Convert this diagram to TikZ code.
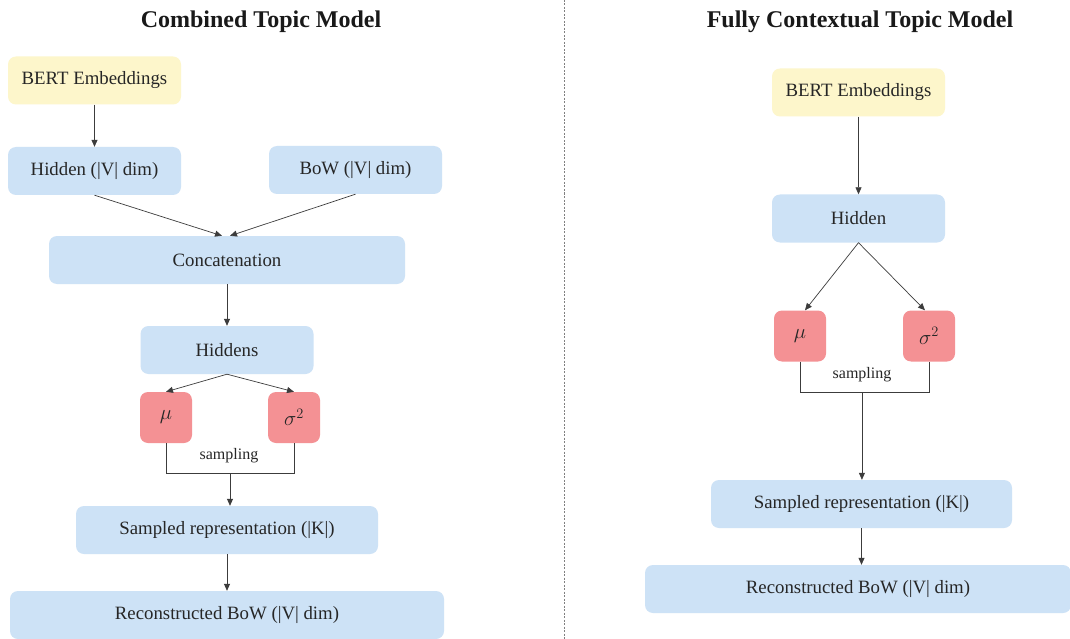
\documentclass[tikz,border=0pt]{standalone}
\usepackage{fontspec}
\setmainfont{Liberation Serif}
\usetikzlibrary{arrows.meta,calc}
\definecolor{bluebox}{RGB}{205,226,246}
\definecolor{yellowbox}{RGB}{253,246,203}
\definecolor{redbox}{RGB}{244,145,148}
\definecolor{linec}{RGB}{60,60,60}
\begin{document}
\begin{tikzpicture}[x=1pt,y=-1pt,
  box/.style={rounded corners=8pt, minimum height=48pt, inner sep=0pt, draw=none, font=\fontsize{18.8}{22}\selectfont, text=black!85},
  bluen/.style={box, fill=bluebox},
  yellown/.style={box, fill=yellowbox},
  redn/.style={box, fill=redbox, minimum width=52pt, minimum height=51pt, font=\fontsize{21}{24}\selectfont},
  conn/.style={draw=linec, line width=0.7pt, -{Triangle[length=7pt,width=6pt]}},
  plain/.style={draw=linec, line width=0.7pt},
  ttl/.style={font=\fontsize{24}{28}\selectfont\bfseries, text=black!90},
  smpl/.style={font=\fontsize{16}{19}\selectfont, text=black!85}
]
\useasboundingbox (0,0) rectangle (1070,639);
\fill[white] (0,0) rectangle (1070,639);
% divider
\draw[gray, line width=0.6pt, dash pattern=on 2pt off 1.5pt] (564,0) -- (564,639);

% ---------------- Left ----------------
\node[ttl] (tl) at (261,22) {Combined Topic Model};
\node[yellown, minimum width=173pt] (lbert) at (94.5,80.5) {BERT Embeddings};
\node[bluen, minimum width=173pt] (lhid) at (94.5,171) {Hidden (|V| dim)};
\node[bluen, minimum width=173pt] (lbow) at (355.5,170) {BoW (|V| dim)};
\node[bluen, minimum width=356pt] (lcat) at (227,260) {Concatenation};
\node[bluen, minimum width=173pt] (lhids) at (227,350) {Hiddens};
\node[redn] (lmu) at (166,417.5) {$\mu$};
\node[redn] (lsig) at (294,417.5) {$\sigma^2$};
\node[smpl] (lsamp) at (229,456) {sampling};
\node[bluen, minimum width=302pt] (lsr) at (227,530) {Sampled representation (|K|)};
\node[bluen, minimum width=434pt] (lrec) at (227,615) {Reconstructed BoW (|V| dim)};

\draw[conn] (lbert.south) -- (lhid.north);
\draw[conn] (lhid.south) -- ($(lcat.north)+(-5,0)$);
\draw[conn] (lbow.south) -- ($(lcat.north)+(3,0)$);
\draw[conn] (lcat.south) -- (lhids.north);
\draw[conn] (lhids.south) -- (lmu.north);
\draw[conn] (lhids.south) -- (lsig.north);
\draw[plain] (lmu.south) -- ++(0,30) coordinate (lbl) -- (lbl -| lsig.south) -- (lsig.south);
\coordinate (lj) at ($(lbl)!0.5!(lbl -| lsig.south)$);
\draw[conn] (lj) -- (lj |- lsr.north);
\draw[conn] (lsr.south) -- (lrec.north);

% ---------------- Right ----------------
\node[ttl] (tr) at (860,22) {Fully Contextual Topic Model};
\node[yellown, minimum width=173pt] (rbert) at (858.5,92.5) {BERT Embeddings};
\node[bluen, minimum width=173pt] (rhid) at (858.5,218.5) {Hidden};
\node[redn] (rmu) at (800,336) {$\mu$};
\node[redn] (rsig) at (929,336) {$\sigma^2$};
\node[smpl] (rsamp) at (862,375) {sampling};
\node[bluen, minimum width=301pt] (rsr) at (861.5,504) {Sampled representation (|K|)};
\node[bluen, minimum width=426pt] (rrec) at (858,589) {Reconstructed BoW (|V| dim)};

\draw[conn] (rbert.south) -- (rhid.north);
\draw[conn] (rhid.south) -- ($(rmu.north)+(5,0)$);
\draw[conn] (rhid.south) -- ($(rsig.north)+(-4,0)$);
\draw[plain] (rmu.south) -- ++(0,31) coordinate (rbl) -- (rbl -| rsig.south) -- (rsig.south);
\coordinate (rj) at ($(rbl)!0.48!(rbl -| rsig.south)$);
\draw[conn] (rj) -- (rj |- rsr.north);
\draw[conn] (rsr.south) -- (rsr.south |- rrec.north);
\end{tikzpicture}
\end{document}
